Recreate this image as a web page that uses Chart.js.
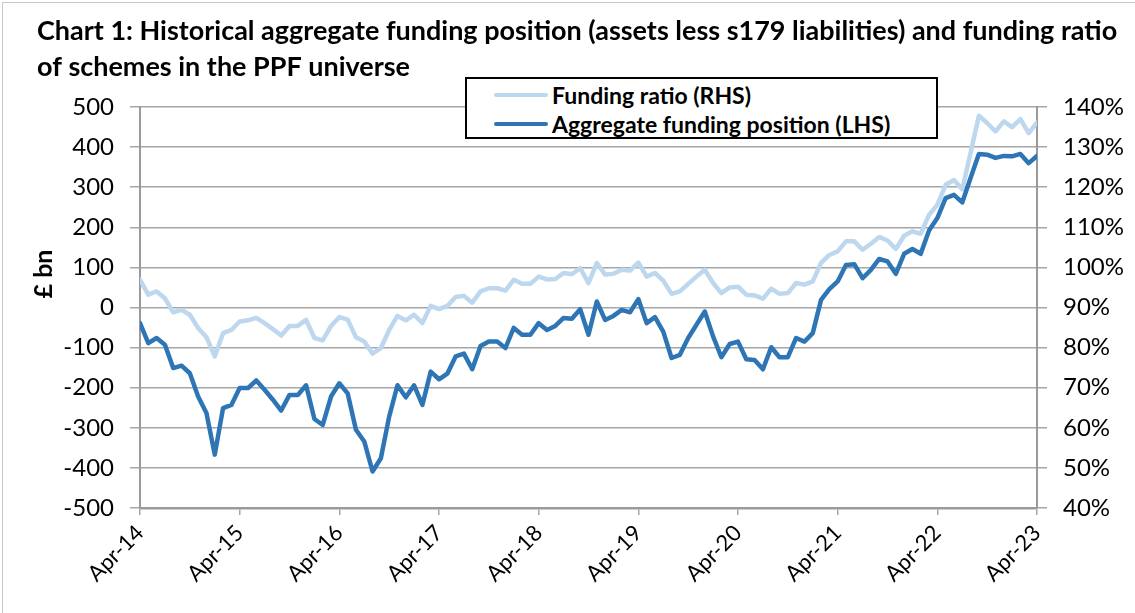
<!DOCTYPE html>
<html>
<head>
<meta charset="utf-8">
<script src="https://cdn.jsdelivr.net/npm/chart.js@4.4.0/dist/chart.umd.min.js"></script>
<style>
  html, body { margin: 0; padding: 0; background: #fff; }
  #wrap { position: relative; width: 1135px; height: 613px; }
  #chart { position: absolute; left: 0; top: 0; }
  #frame { position: absolute; left: 2px; top: 2px; width: 1140px; height: 620px; border: 1px solid #c8c8c8; pointer-events: none; }
  #legend {
    position: absolute; left: 465px; top: 77px; width: 473px; height: 62px;
    box-sizing: border-box; border: 2px solid #000; background: #fff;
    font: bold 23px Lato, sans-serif; color: #000;
  }
  #legend .row { position: absolute; left: 0; height: 28px; display: flex; align-items: center; white-space: nowrap; }
  #legend .swatch { display: inline-block; width: 54px; height: 4px; border-radius: 2px; margin-left: 27px; margin-right: 4px; }
</style>
</head>
<body>
<div id="wrap">
  <canvas id="chart" width="1135" height="613"></canvas>
  <div id="frame"></div>
  <div id="legend"></div>
</div>
<script>
const TITLE = [
  'Chart 1: Historical aggregate funding position (assets less s179 liabilities) and funding ratio',
  'of schemes in the PPF universe'
];
const Y_TITLE = '£ bn';
const SERIES_NAMES = ['Funding ratio (RHS)', 'Aggregate funding position (LHS)'];
const SERIES_COLORS = ['#bdd7ee', '#2e75b6'];

// monthly, Apr-14 .. Apr-23
const START_YEAR = 14;
const MONTH_NAMES = ['Jan','Feb','Mar','Apr','May','Jun','Jul','Aug','Sep','Oct','Nov','Dec'];
const MONTHS = [];
for (let i = 0; i < 109; i++) {
  const m = (3 + i) % 12;
  const y = START_YEAR + Math.floor((3 + i) / 12);
  MONTHS.push(MONTH_NAMES[m] + '-' + y);
}

// £bn, assets less s179 liabilities
const fundingPosition = [
  -39, -89, -76, -93, -151, -145, -164, -222, -263, -367, -251, -243,
  -201, -201, -182, -205, -230, -257, -218, -218, -194, -278, -293, -222,
  -189, -214, -305, -334, -409, -376, -272, -194, -224, -194, -243, -160,
  -179, -165, -122, -115, -154, -96, -85, -85, -101, -51, -68, -68,
  -39, -56, -46, -26, -28, -4, -68, 15, -31, -21, -6, -12,
  21, -39, -24, -60, -126, -118, -76, -43, -10, -72, -124, -91,
  -85, -129, -131, -154, -99, -124, -124, -76, -85, -64, 19, 46,
  65, 106, 108, 73, 94, 121, 115, 84, 134, 146, 134, 192,
  223, 273, 281, 262, 323, 383, 381, 373, 378, 377, 383, 360,
  378
];

// %, assets / s179 liabilities
const fundingRatio = [
  96.9, 93.2, 94.0, 92.3, 88.8, 89.4, 88.2, 84.9, 82.6, 77.8, 83.6, 84.4,
  86.5, 86.8, 87.4, 86.1, 84.6, 83.0, 85.4, 85.4, 86.9, 82.4, 81.8, 85.4,
  87.6, 87.0, 82.6, 81.5, 78.5, 79.9, 84.4, 87.9, 86.8, 88.2, 86.1, 90.4,
  89.6, 90.4, 92.6, 92.9, 91.2, 94.0, 94.8, 94.8, 94.2, 96.9, 95.9, 95.9,
  97.7, 97.0, 97.1, 98.6, 98.3, 99.8, 96.1, 101.1, 98.2, 98.4, 99.4, 99.2,
  101.2, 97.7, 98.6, 96.7, 93.4, 94.0, 95.9, 97.7, 99.4, 96.1, 93.6, 95.0,
  95.2, 93.2, 93.0, 92.2, 94.7, 93.4, 93.6, 96.1, 95.7, 96.5, 101.1, 103.1,
  104.0, 106.5, 106.5, 104.4, 105.9, 107.6, 106.7, 104.6, 107.9, 109.0, 108.4, 113.1,
  115.6, 120.6, 121.8, 119.5, 128.5, 137.8, 136.0, 133.9, 136.4, 135.0, 137.0, 133.5,
  136.1
];

const LEFT_TICKS = { min: -500, max: 500, step: 100 };
const RIGHT_TICKS = { min: 40, max: 140, step: 10 };

const FONT = 'Lato, "Open Sans", sans-serif';
const GRID = '#a6a6a6';

// legend (overlaps the plot like the original)
const legendEl = document.getElementById('legend');
SERIES_NAMES.forEach((name, i) => {
  const row = document.createElement('div');
  row.className = 'row';
  row.style.top = (i === 0 ? 2 : 31) + 'px';
  row.innerHTML = '<span class="swatch" style="background:' + SERIES_COLORS[i] + '"></span>' + name;
  legendEl.appendChild(row);
});

const textPlugin = {
  id: 'textPlugin',
  afterDraw(chart) {
    const c = chart.ctx;
    c.save();
    c.fillStyle = '#000';
    c.textBaseline = 'middle';
    c.font = 'bold 24px ' + FONT;
    const w = c.measureText(TITLE[0]).width;
    const size = 24 * 1080 / w;
    c.font = 'bold ' + size.toFixed(2) + 'px ' + FONT;
    c.fillText(TITLE[0], 37, 31);
    c.fillText(TITLE[1], 37, 67);
    c.font = 'bold 25px ' + FONT;
    c.translate(44, 274);
    c.rotate(-Math.PI / 2);
    c.textAlign = 'center';
    c.fillText(Y_TITLE, 0, 0);
    c.restore();
  }
};

new Chart(document.getElementById('chart'), {
  type: 'line',
  data: {
    datasets: [
      {
        label: SERIES_NAMES[0],
        data: fundingRatio.map((v, i) => ({ x: i, y: v })),
        yAxisID: 'y1',
        borderColor: SERIES_COLORS[0],
        borderWidth: 4.5,
        order: 2
      },
      {
        label: SERIES_NAMES[1],
        data: fundingPosition.map((v, i) => ({ x: i, y: v })),
        yAxisID: 'y',
        borderColor: SERIES_COLORS[1],
        borderWidth: 4.5,
        order: 1
      }
    ]
  },
  options: {
    responsive: false,
    animation: false,
    layout: { padding: { top: 107, left: 0, right: 0, bottom: 0 } },
    elements: {
      point: { radius: 0 },
      line: { tension: 0, borderCapStyle: 'round', borderJoinStyle: 'round' }
    },
    plugins: {
      legend: { display: false },
      title: { display: false },
      tooltip: { enabled: false }
    },
    scales: {
      x: {
        type: 'linear',
        min: 0,
        max: MONTHS.length - 1,
        afterFit: s => { s.height = 105; },
        ticks: {
          stepSize: 12,
          autoSkip: false,
          maxRotation: 45,
          minRotation: 45,
          padding: 5,
          color: '#000',
          font: { family: FONT, size: 22 },
          callback: v => MONTHS[v]
        },
        grid: { drawOnChartArea: false, color: GRID, lineWidth: 1.5, tickLength: 7 },
        border: { color: '#9a9a9a', width: 2.5 }
      },
      y: {
        position: 'left',
        min: LEFT_TICKS.min,
        max: LEFT_TICKS.max,
        afterFit: s => { s.width = 140; },
        ticks: {
          stepSize: LEFT_TICKS.step,
          padding: 16,
          color: '#000',
          font: { family: FONT, size: 24 }
        },
        grid: { color: GRID, lineWidth: 1.5, tickLength: 10 },
        border: { color: '#9a9a9a', width: 2 }
      },
      y1: {
        position: 'right',
        min: RIGHT_TICKS.min,
        max: RIGHT_TICKS.max,
        afterFit: s => { s.width = 98; },
        ticks: {
          stepSize: RIGHT_TICKS.step,
          padding: 16,
          color: '#000',
          font: { family: FONT, size: 24 },
          callback: v => v + '%'
        },
        grid: { drawOnChartArea: false, color: GRID, lineWidth: 1.5, tickLength: 10 },
        border: { color: '#9a9a9a', width: 2 }
      }
    }
  },
  plugins: [textPlugin]
});
</script>
</body>
</html>
